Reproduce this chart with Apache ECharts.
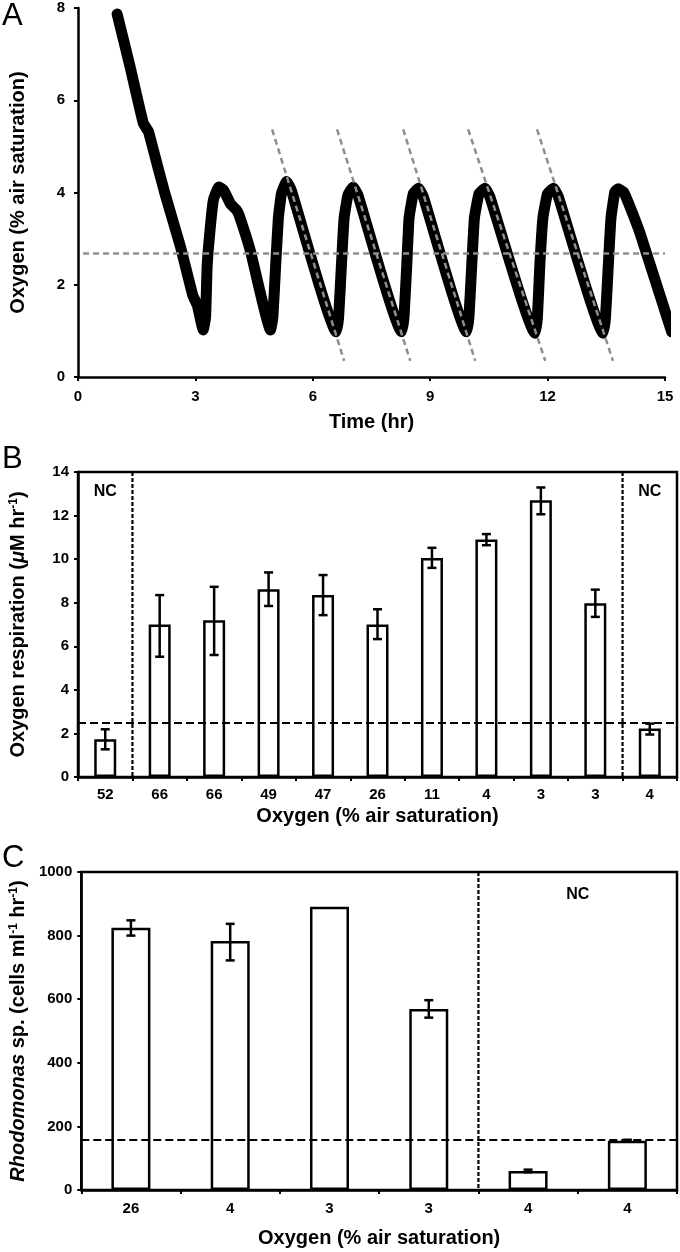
<!DOCTYPE html>
<html style="height: 100%">
<head>
  <meta charset="utf-8">
  <script src="https://cdn.jsdelivr.net/npm/echarts/dist/echarts.min.js"></script>
  <style type="text/css">
    * { margin: 0; padding: 0; }
    body { background: #fff; }
  </style>
</head>
<body>
  <div id="container" style="width: 680px; height: 1252px"></div>
  <script type="text/javascript">
    var FONT = '"Liberation Sans", Arial, Helvetica, sans-serif';

    // ---- Panel A: oxygen trace, [time (hr), oxygen (% air saturation)]
    var oxygenTrace = [
      [1.00, 7.87], [1.33, 6.73], [1.67, 5.50], [1.80, 5.32], [1.88, 5.07],
      [2.22, 3.98], [2.61, 2.85], [2.93, 1.78], [3.05, 1.55], [3.20, 1.02],
      [3.26, 1.30], [3.30, 2.40], [3.37, 3.15], [3.46, 3.84], [3.60, 4.12],
      [3.72, 4.05], [3.90, 3.75], [4.05, 3.62], [4.12, 3.50], [4.40, 2.75],
      [4.92, 1.02],
      [4.98, 1.30], [5.05, 2.40], [5.12, 3.45], [5.20, 3.98], [5.33, 4.24],
      [5.45, 4.05], [6.60, 0.98],
      [6.66, 1.30], [6.73, 2.40], [6.80, 3.45], [6.90, 3.95], [7.03, 4.12],
      [7.15, 3.95], [8.27, 0.98],
      [8.33, 1.30], [8.40, 2.40], [8.46, 3.45], [8.57, 3.98], [8.70, 4.09],
      [8.82, 3.92], [9.93, 0.98],
      [9.99, 1.30], [10.06, 2.40], [10.13, 3.45], [10.25, 3.98], [10.40, 4.09],
      [10.52, 3.92], [11.68, 0.95],
      [11.74, 1.30], [11.80, 2.40], [11.88, 3.45], [12.00, 3.98], [12.15, 4.09],
      [12.27, 3.92], [13.42, 0.95],
      [13.48, 1.30], [13.55, 2.40], [13.62, 3.45], [13.72, 4.02], [13.80, 4.08],
      [13.95, 4.00], [14.10, 3.70], [14.36, 3.12], [15.17, 0.98]
    ];
    var meanO2 = 2.68;
    var meanLineT = [0.13, 15];
    var slopeTopT = [4.96, 6.62, 8.31, 9.97, 11.73];
    var slopeBottomT = [6.80, 8.49, 10.15, 11.94, 13.67];
    var slopeTopO = 5.37;
    var slopeBottomO = 0.35;

    // ---- Panel B: oxygen respiration
    var labelsB = ['52', '66', '66', '49', '47', '26', '11', '4', '3', '3', '4'];
    var valuesB = [1.73, 7.0, 7.2, 8.62, 8.35, 7.0, 10.05, 10.9, 12.7, 7.97, 2.23];
    var errLowB = [1.27, 5.52, 5.6, 7.85, 7.43, 6.33, 9.6, 10.64, 12.06, 7.35, 1.95];
    var errHighB = [2.19, 8.35, 8.73, 9.39, 9.27, 7.7, 10.52, 11.15, 13.29, 8.6, 2.45];
    var thresholdB = 2.5;
    var sepB = [0.5, 9.5];
    var ncB = [[0, 13.1], [10, 13.1]];

    // ---- Panel C: Rhodomonas sp.
    var labelsC = ['26', '4', '3', '3', '4', '4'];
    var valuesC = [825, 783, 891, 569, 60, 155];
    var errLowC = [800, 722, null, 542, 56, 152];
    var errHighC = [848, 837, null, 597, 64, 158];
    var thresholdC = 157;
    var sepC = [3.5];
    var ncC = [[4.5, 928]];

    function atBand(api, pos, yv) {
      var idx = Math.floor(pos);
      var band = api.size([1, 0])[0];
      var p = api.coord([idx, yv]);
      return [p[0] + (pos - idx) * band, p[1]];
    }

    function renderSeparator(params, api) {
      var x = atBand(api, api.value(0), 0)[0];
      var cs = params.coordSys;
      return {
        type: 'line',
        shape: { x1: x, y1: cs.y, x2: x, y2: cs.y + cs.height },
        style: { stroke: '#000', lineWidth: 2.2, lineDash: [4, 2] }
      };
    }

    function renderNC(params, api) {
      var p = atBand(api, api.value(0), api.value(1));
      return {
        type: 'text', x: p[0], y: p[1],
        style: { text: 'NC', fontSize: 16, fontWeight: 'bold', fontFamily: FONT,
                 fill: '#000', align: 'center', verticalAlign: 'middle' }
      };
    }

    function renderErrorBar(params, api) {
      var i = api.value(0);
      var lo = api.coord([i, api.value(1)]);
      var hi = api.coord([i, api.value(2)]);
      var w = 4.5;
      var st = { stroke: '#000', lineWidth: 2.5 };
      return {
        type: 'group',
        children: [
          { type: 'line', shape: { x1: lo[0], y1: lo[1], x2: hi[0], y2: hi[1] }, style: st },
          { type: 'line', shape: { x1: lo[0] - w, y1: lo[1], x2: lo[0] + w, y2: lo[1] }, style: st },
          { type: 'line', shape: { x1: hi[0] - w, y1: hi[1], x2: hi[0] + w, y2: hi[1] }, style: st }
        ]
      };
    }

    function errData(lows, highs) {
      var out = [];
      lows.forEach(function (lo, i) {
        if (lo != null) out.push([i, lo, highs[i]]);
      });
      return out;
    }

    var axisLineStyle = { lineStyle: { color: '#000', width: 2.5 } };
    var tickStyle = { show: true, length: 4, lineStyle: { color: '#000', width: 2 } };
    var labelStyle = { color: '#000', fontSize: 15, fontWeight: 'bold', fontFamily: FONT,
                       formatter: function (v) { return String(v); } };
    var nameStyle = {
      color: '#000', fontSize: 20, fontWeight: 'bold', fontFamily: FONT,
      rich: {
        it: { fontSize: 20, fontWeight: 'bold', fontStyle: 'italic', fontFamily: FONT, color: '#000' },
        sup: { fontSize: 12, fontWeight: 'bold', fontFamily: FONT, color: '#000', verticalAlign: 'top' }
      }
    };

    var dom = document.getElementById('container');
    var myChart = echarts.init(dom, null, { renderer: 'canvas' });

    var series = [
      {
        type: 'line', xAxisIndex: 0, yAxisIndex: 0,
        data: oxygenTrace, showSymbol: false, clip: false, z: 2, smooth: 0.12,
        lineStyle: { color: '#000', width: 11, cap: 'round', join: 'round' }
      },
      {
        type: 'line', xAxisIndex: 0, yAxisIndex: 0, silent: true,
        data: [[meanLineT[0], meanO2], [meanLineT[1], meanO2]],
        showSymbol: false, z: 4,
        lineStyle: { color: '#8e8e8e', width: 2.5, type: [6, 4] }
      }
    ];
    slopeTopT.forEach(function (t0, i) {
      series.push({
        type: 'line', xAxisIndex: 0, yAxisIndex: 0, silent: true,
        data: [[t0, slopeTopO], [slopeBottomT[i], slopeBottomO]],
        showSymbol: false, z: 4,
        lineStyle: { color: '#8e8e8e', width: 2.5, type: [6, 4] }
      });
    });

    function barBlock(ix, values, lows, highs, threshold, seps, nc, barWidth) {
      return [
        {
          type: 'bar', xAxisIndex: ix, yAxisIndex: ix, data: values, barWidth: barWidth,
          itemStyle: { color: '#fff', borderColor: '#000', borderWidth: 2.5 },
          markLine: {
            silent: true, symbol: 'none', label: { show: false },
            lineStyle: { color: '#000', width: 2, type: [8, 4] },
            data: [{ yAxis: threshold }]
          }
        },
        { type: 'custom', xAxisIndex: ix, yAxisIndex: ix, data: errData(lows, highs),
          renderItem: renderErrorBar, z: 5 },
        { type: 'custom', xAxisIndex: ix, yAxisIndex: ix, data: seps.map(function (s) { return [s, 0]; }),
          renderItem: renderSeparator, z: 5 },
        { type: 'custom', xAxisIndex: ix, yAxisIndex: ix, data: nc,
          renderItem: renderNC, z: 5 }
      ];
    }
    series = series.concat(barBlock(1, valuesB, errLowB, errHighB, thresholdB, sepB, ncB, 22));
    series = series.concat(barBlock(2, valuesC, errLowC, errHighC, thresholdC, sepC, ncC, 39));

    var option = {
      animation: false,
      backgroundColor: '#fff',
      textStyle: { fontFamily: FONT },
      grid: [
        { left: 78, right: 15, top: 8, height: 369 },
        { left: 78, right: 3, top: 472, height: 305, show: true, borderColor: '#000', borderWidth: 2.5 },
        { left: 78, right: 3, top: 872, height: 318, show: true, borderColor: '#000', borderWidth: 2.5 }
      ],
      xAxis: [
        {
          gridIndex: 0, type: 'value', min: 0, max: 15, interval: 3,
          axisLine: axisLineStyle, axisTick: tickStyle, splitLine: { show: false },
          axisLabel: Object.assign({ margin: 12 }, labelStyle),
          name: 'Time (hr)', nameLocation: 'middle', nameGap: 35, nameTextStyle: nameStyle
        },
        {
          gridIndex: 1, type: 'category', data: labelsB,
          axisLine: axisLineStyle, axisTick: Object.assign({ interval: 0 }, tickStyle),
          axisLabel: Object.assign({ margin: 10, interval: 0 }, labelStyle),
          name: 'Oxygen (% air saturation)', nameLocation: 'middle', nameGap: 29, nameTextStyle: nameStyle
        },
        {
          gridIndex: 2, type: 'category', data: labelsC,
          axisLine: axisLineStyle, axisTick: Object.assign({ interval: 0 }, tickStyle),
          axisLabel: Object.assign({ margin: 11, interval: 0 }, labelStyle),
          name: 'Oxygen (% air saturation)', nameLocation: 'middle', nameGap: 38, nameTextStyle: nameStyle
        }
      ],
      yAxis: [
        {
          gridIndex: 0, type: 'value', min: 0, max: 8, interval: 2,
          axisLine: { show: true, lineStyle: { color: '#000', width: 2.5 } },
          axisTick: tickStyle, splitLine: { show: false },
          axisLabel: Object.assign({ margin: 13 }, labelStyle),
          name: 'Oxygen (% air saturation)', nameLocation: 'middle', nameGap: 50, nameTextStyle: nameStyle
        },
        {
          gridIndex: 1, type: 'value', min: 0, max: 14, interval: 2,
          axisLine: { show: true, lineStyle: { color: '#000', width: 2.5 } },
          axisTick: tickStyle, splitLine: { show: false },
          axisLabel: Object.assign({ margin: 9 }, labelStyle),
          name: 'Oxygen respiration ({it|\u03bc}M hr{sup|-1})', nameLocation: 'middle', nameGap: 50,
          nameTextStyle: nameStyle
        },
        {
          gridIndex: 2, type: 'value', min: 0, max: 1000, interval: 200,
          axisLine: { show: true, lineStyle: { color: '#000', width: 2.5 } },
          axisTick: tickStyle, splitLine: { show: false },
          axisLabel: Object.assign({ margin: 9 }, labelStyle),
          name: '{it|Rhodomonas} sp. (cells ml{sup|-1} hr{sup|-1})', nameLocation: 'middle', nameGap: 44,
          nameTextStyle: nameStyle
        }
      ],
      graphic: [
        { type: 'text', left: 2, top: 1, style: { text: 'A', fontSize: 31, fontFamily: FONT, fill: '#000' } },
        { type: 'text', left: 2, top: 444, style: { text: 'B', fontSize: 31, fontFamily: FONT, fill: '#000' } },
        { type: 'text', left: 2, top: 843, style: { text: 'C', fontSize: 31, fontFamily: FONT, fill: '#000' } }
      ],
      series: series
    };

    if (option && typeof option === 'object') {
      myChart.setOption(option, true);
    }
  </script>
</body>
</html>
